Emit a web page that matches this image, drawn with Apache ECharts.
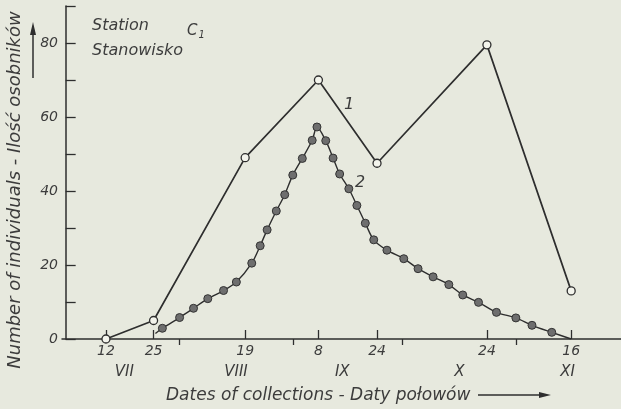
<!DOCTYPE html>
<html>
<head>
<meta charset="utf-8">
<script src="https://cdn.jsdelivr.net/npm/echarts@6/dist/echarts.min.js"></script>
<style>
html,body{margin:0;padding:0;background:#e7e9de;}
#chart{width:621px;height:409px;}
</style>
</head>
<body>
<div id="chart"></div>
<script>
// x values are days counted from 1 July (12 VII = day 11)
const tickDays = [11, 24, 49, 69, 85, 115, 138];
const tickLabels = ['12', '25', '19', '8', '24', '24', '16'];
const monthBoundaryDays = [31, 62, 92, 123];
const monthLabelDays = [16, 46.5, 75.5, 107.5, 137];
const monthLabels = ['VII', 'VIII', 'IX', 'X', 'XI'];
const yTickValues = [0, 10, 20, 30, 40, 50, 60, 70, 80, 90];
const yLabelValues = [0, 20, 40, 60, 80];

// curve 1 (open circles)
const s1Days = [11, 24, 49, 69, 85, 115, 138];
const s1Values = [0, 5, 49, 70, 47.5, 79.5, 13];

// curve 2 (filled dots)
const s2Days = [24.5, 26.4, 31.1, 34.9, 38.8, 43.1, 46.6, 50.8, 53.1, 55.0, 57.5, 59.8, 62.0, 64.6, 67.3, 68.6,
  71.0, 73.0, 74.8, 77.3, 79.5, 81.8, 84.1, 87.7, 92.3, 96.2, 100.3, 104.6, 108.4, 112.7, 117.6, 122.9, 127.3, 132.7, 138.0];
const s2Values = [1.5, 2.9, 5.8, 8.3, 10.9, 13.1, 15.4, 20.5, 25.2, 29.5, 34.6, 39.0, 44.3, 48.8, 53.7, 57.3,
  53.6, 48.9, 44.6, 40.6, 36.1, 31.3, 26.8, 24.0, 21.7, 19.0, 16.8, 14.7, 11.9, 9.9, 7.2, 5.7, 3.7, 1.8, 0];

const FONT = 'DejaVu Sans';
const INK = '#2e2e2e';
const TXT = '#3c3c3c';

const s1Data = s1Days.map((d, i) => [d, s1Values[i]]);
const s2Data = s2Days.map((d, i) => {
  const item = { value: [d, s2Values[i]] };
  if (i === 0 || i === s2Days.length - 1) item.symbol = 'none';
  return item;
});

const chart = echarts.init(document.getElementById('chart'), null, { renderer: 'canvas' });
chart.setOption({
  backgroundColor: '#e7e9de',
  animation: false,
  grid: { left: 62, right: 0, top: 6, bottom: 70 },
  xAxis: [
    {
      type: 'value', min: -1, max: 151.6, position: 'bottom',
      axisLine: { show: true, lineStyle: { color: INK, width: 1.5 } },
      axisTick: { show: true, inside: true, length: 9, customValues: tickDays, lineStyle: { color: INK, width: 1.3 } },
      axisLabel: {
        show: true, customValues: tickDays, margin: 5,
        formatter: v => tickLabels[tickDays.indexOf(v)],
        fontFamily: FONT, fontStyle: 'italic', fontSize: 14, color: TXT
      },
      splitLine: { show: false }
    },
    {
      type: 'value', min: -1, max: 151.6, position: 'bottom', gridIndex: 0,
      axisLine: { show: false },
      axisTick: { show: true, inside: false, length: 6, customValues: monthBoundaryDays, lineStyle: { color: INK, width: 1.3 } },
      axisLabel: {
        show: true, customValues: monthLabelDays, margin: 26,
        formatter: v => monthLabels[monthLabelDays.indexOf(v)],
        fontFamily: FONT, fontStyle: 'italic', fontSize: 15, color: TXT
      },
      splitLine: { show: false }
    }
  ],
  yAxis: {
    type: 'value', min: 0, max: 90,
    axisLine: { show: true, lineStyle: { color: INK, width: 1.5 } },
    axisTick: { show: true, inside: true, length: 10, customValues: yTickValues, lineStyle: { color: INK, width: 1.3 } },
    axisLabel: {
      show: true, customValues: yLabelValues, margin: 4,
      fontFamily: FONT, fontStyle: 'italic', fontSize: 14, color: TXT
    },
    splitLine: { show: false }
  },
  series: [
    {
      type: 'line', data: s2Data, xAxisIndex: 0, smooth: 0.3,
      symbol: 'circle', symbolSize: 8,
      lineStyle: { color: INK, width: 1.4 },
      itemStyle: { color: '#6e6e6e', borderColor: '#333', borderWidth: 1 },
      z: 3
    },
    {
      type: 'line', data: s1Data, xAxisIndex: 0,
      symbol: 'circle', symbolSize: 8,
      lineStyle: { color: INK, width: 1.7 },
      itemStyle: { color: '#f3f4ec', borderColor: INK, borderWidth: 1.3 },
      z: 4
    }
  ],
  graphic: [
    { type: 'text', left: 92, top: 13, style: { text: 'Station\nStanowisko', font: 'italic 16px "DejaVu Sans"', fill: TXT, lineHeight: 25 } },
    { type: 'text', left: 187, top: 24, style: {
        text: '{c|C}{s|1}', fill: TXT,
        rich: { c: { font: 'italic 15px "DejaVu Sans"', fill: TXT }, s: { font: 'italic 10px "DejaVu Sans"', fill: TXT, padding: [8, 0, 0, 1] } }
      } },
    { type: 'text', x: 349, y: 105, style: { text: '1', font: 'italic 16px "DejaVu Sans"', fill: TXT, align: 'center', verticalAlign: 'middle' } },
    { type: 'text', x: 360, y: 183, style: { text: '2', font: 'italic 16px "DejaVu Sans"', fill: TXT, align: 'center', verticalAlign: 'middle' } },
    { type: 'text', x: 15, y: 190, rotation: Math.PI / 2, style: {
        text: 'Number of individuals - Ilość osobników', font: 'italic 18px "DejaVu Sans"', fill: TXT, align: 'center', verticalAlign: 'middle' } },
    { type: 'line', shape: { x1: 33, y1: 78, x2: 33, y2: 32 }, style: { stroke: INK, lineWidth: 1.5 } },
    { type: 'polygon', shape: { points: [[33, 22], [30, 35], [36, 35]] }, style: { fill: INK } },
    { type: 'text', x: 166, y: 396, style: {
        text: 'Dates of collections - Daty połowów', font: 'italic 17px "DejaVu Sans"', fill: TXT, align: 'left', verticalAlign: 'middle' } },
    { type: 'line', shape: { x1: 478, y1: 395, x2: 541, y2: 395 }, style: { stroke: INK, lineWidth: 1.5 } },
    { type: 'polygon', shape: { points: [[551, 395], [539, 392], [539, 398]] }, style: { fill: INK } }
  ]
});
</script>
</body>
</html>
